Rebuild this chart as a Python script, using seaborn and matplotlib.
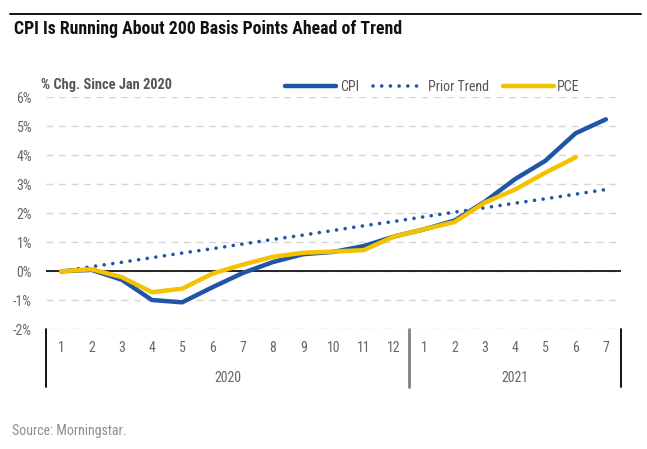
import matplotlib
matplotlib.use("Agg")
import matplotlib.pyplot as plt
from matplotlib.lines import Line2D
from matplotlib import font_manager as fm
import seaborn as sns
import pandas as pd

# -----------------------------
# data (% change since Jan 2020)
# -----------------------------
months = ["1", "2", "3", "4", "5", "6", "7", "8", "9", "10", "11", "12",
          "1", "2", "3", "4", "5", "6", "7"]
years = ["2020", "2021"]
year_len = [12, 7]
cpi = [0.0, 0.05, -0.29, -0.99, -1.07, -0.55, -0.06, 0.32, 0.59, 0.67, 0.87, 1.2,
       1.45, 1.75, 2.4, 3.18, 3.81, 4.76, 5.24]
prior_trend = [0.0, 0.16, 0.31, 0.47, 0.63, 0.78, 0.94, 1.1, 1.25, 1.41, 1.57, 1.72,
               1.88, 2.04, 2.19, 2.35, 2.5, 2.66, 2.82]
pce = [0.0, 0.07, -0.2, -0.72, -0.6, -0.08, 0.23, 0.5, 0.64, 0.68, 0.73, 1.2,
       1.45, 1.7, 2.37, 2.82, 3.4, 3.93]
y_ticks = [-2, -1, 0, 1, 2, 3, 4, 5, 6]

blue = "#1f55a5"
yellow = "#f5c200"

sns.set_style("white")

# pick a narrow font if there is one (original uses a condensed face)
names = {f.name for f in fm.fontManager.ttflist}
narrow = None
for cand in ["Roboto Condensed", "Liberation Sans Narrow", "Open Sans Condensed",
             "Noto Sans Condensed", "DejaVu Sans Condensed", "Arial Narrow"]:
    if cand in names:
        narrow = cand
        break
if narrow is None:
    for f in fm.fontManager.ttflist:
        if "condensed" in f.fname.lower() or "narrow" in f.fname.lower():
            narrow = f.name
            plt.rcParams["font.stretch"] = "condensed"
            break
if narrow is None:
    narrow = "Roboto"
plt.rcParams["font.family"] = [narrow, "DejaVu Sans"]

W, H = 647, 449
fig = plt.figure(figsize=(W / 100, H / 100), dpi=100)
ax = fig.add_axes([46 / W, 1 - 329.3 / H, 575 / W, 232 / H])

pos = list(range(len(months)))
df_cpi = pd.DataFrame({"x": pos, "y": cpi})
df_trend = pd.DataFrame({"x": pos, "y": prior_trend})
df_pce = pd.DataFrame({"x": pos[:len(pce)], "y": pce})

sns.lineplot(data=df_trend, x="x", y="y", ax=ax, color=blue, lw=2.6,
             linestyle=(0, (0.01, 2.4)), dash_capstyle="round", legend=False)
sns.lineplot(data=df_cpi, x="x", y="y", ax=ax, color=blue, lw=3.2, legend=False)
sns.lineplot(data=df_pce, x="x", y="y", ax=ax, color=yellow, lw=3.2, legend=False)
ax.set_xlim(-0.5, len(months) - 0.5)
ax.set_ylim(-2, 6)
ax.set_yticks(y_ticks)
ax.set_yticklabels([f"{v}%" for v in y_ticks], color="#666666", fontsize=10)
ax.tick_params(axis="y", length=0, pad=10)
ax.set_xticks([])
ax.set_xlabel("")
ax.set_ylabel("")
for s in ax.spines.values():
    s.set_visible(False)
ax.yaxis.grid(True, color="#d6d6d6", lw=1, linestyle=(0, (5, 4)))
ax.set_axisbelow(True)
ax.axhline(0, color="black", lw=1.2, zorder=1.5)

# category axis: month labels, year labels and separators
xt = ax.get_xaxis_transform()
for i, m in enumerate(months):
    ax.text(i, -0.082, m, transform=xt, ha="center", va="center",
            color="#666666", fontsize=10)
start = 0
edges = [-0.5]
for yr, n in zip(years, year_len):
    ax.text(start + (n - 1) / 2, -0.211, yr, transform=xt, ha="center",
            va="center", color="#666666", fontsize=10)
    start += n
    edges.append(start - 0.5)
for k, e in enumerate(edges):
    inner = 0 < k < len(edges) - 1
    ax.plot([e, e], [0, -0.25], transform=xt, clip_on=False,
            color="#808080" if inner else "black", lw=2 if inner else 1.3)

# legend
handles = [Line2D([], [], color=blue, lw=3.2),
           Line2D([], [], color=blue, lw=2.6, linestyle=(0, (0.01, 2.4)),
                  dash_capstyle="round"),
           Line2D([], [], color=yellow, lw=3.2)]
ax.legend(handles, ["CPI", "Prior Trend", "PCE"], ncol=3, frameon=False,
          loc="center left", bbox_to_anchor=(285 / W, 1 - 86.7 / H),
          bbox_transform=fig.transFigure, borderaxespad=0, borderpad=0,
          handlelength=3.7, handletextpad=0.25, columnspacing=1.0,
          fontsize=10, labelcolor="#555555")

# header and footer
fig.add_artist(Line2D([10 / W, 641 / W], [1 - 14.3 / H] * 2,
                      transform=fig.transFigure, color="black", lw=1.3))
fig.text(14 / W, 1 - 28.5 / H, "CPI Is Running About 200 Basis Points Ahead of Trend",
         fontsize=12.8, fontweight="bold", va="center", ha="left", color="#111111")
fig.text(41 / W, 1 - 84.5 / H, "% Chg. Since Jan 2020", fontsize=10.4,
         fontweight="bold", va="center", ha="left", color="#555555")
fig.text(12 / W, 1 - 431 / H, "Source: Morningstar.", fontsize=10,
         va="center", ha="left", color="#8c8c9c")

fig.savefig("out.png", dpi=100)
